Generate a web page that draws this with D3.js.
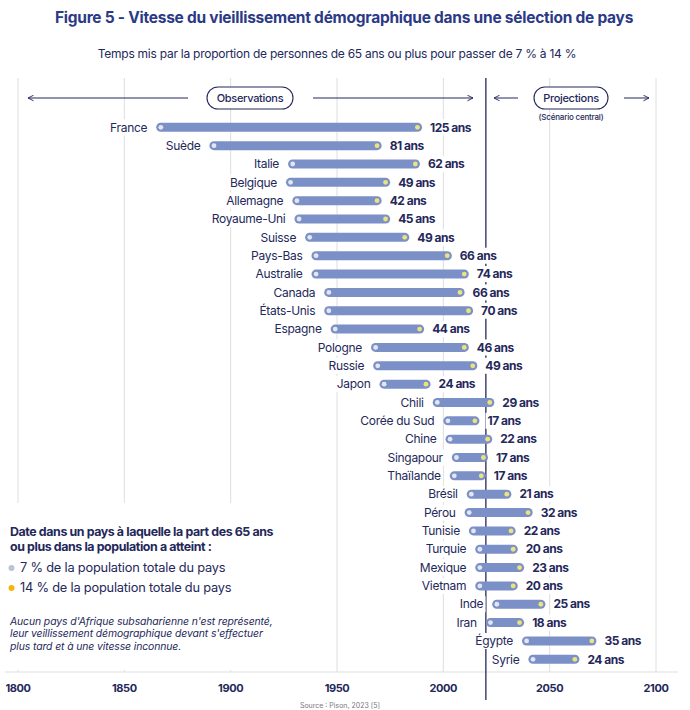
<!DOCTYPE html>
<html lang="fr">

<head>
  <meta charset="UTF-8">
  <title>Vitesse du vieillissement démographique</title>
  <script src="https://d3js.org/d3.v7.min.js"></script>
  <style>
    body {
      margin: 0;
      background: #fff;
    }

    svg {
      font-family: Inter, "Noto Sans", sans-serif;
    }
  </style>
</head>

<body>
  <div id="chart"></div>

  <script>
    // Data
    const countries = ["France", "Suède", "Italie", "Belgique", "Allemagne", "Royaume-Uni", "Suisse",
      "Pays-Bas", "Australie", "Canada", "États-Unis", "Espagne", "Pologne", "Russie", "Japon",
      "Chili", "Corée du Sud", "Chine", "Singapour", "Thaïlande", "Brésil", "Pérou", "Tunisie",
      "Turquie", "Mexique", "Vietnam", "Inde", "Iran", "Égypte", "Syrie"];
    // year when 65+ reached 7 %
    const startYears = [1865, 1890, 1927, 1926, 1929, 1930, 1935,
      1938, 1938, 1944, 1944, 1947, 1966, 1967, 1970,
      1995, 2000, 2001, 2004, 2003, 2011, 2010, 2012,
      2015, 2015, 2015, 2023, 2020, 2037, 2040];
    // years needed to go from 7 % to 14 %
    const durations = [125, 81, 62, 49, 42, 45, 49,
      66, 74, 66, 70, 44, 46, 49, 24,
      29, 17, 22, 17, 17, 21, 32, 22,
      20, 23, 20, 25, 18, 35, 24];
    const tickYears = [1800, 1850, 1900, 1950, 2000, 2050, 2100];
    const projectionStart = 2020;

    const legendTitle = ["Date dans un pays à laquelle la part des 65 ans", "ou plus dans la population a atteint :"];
    const legendItems = ["7 % de la population totale du pays", "14 % de la population totale du pays"];
    const noteLines = ["Aucun pays d'Afrique subsaharienne n'est représenté,",
      "leur veillissement démographique devant s'effectuer",
      "plus tard et à une vitesse inconnue."];

    const rows = countries.map((c, i) => ({
      name: c, start: startYears[i], dur: durations[i], end: startYears[i] + durations[i]
    }));

    // Dimensions
    const width = 690, height = 710;
    const navy = "#24285a", titleBlue = "#2b3a86", barColor = "#7c90c8";
    const gridColor = "#dedede";

    const svg = d3.select("#chart").append("svg")
      .attr("width", width)
      .attr("height", height);

    const x = d3.scaleLinear().domain([1800, 2100]).range([18, 656]);
    const y = d3.scalePoint().domain(countries).range([127.3, 659.3]);
    const axisY = 672;

    // Title
    svg.append("text")
      .attr("x", width / 2 - 1).attr("y", 23)
      .attr("text-anchor", "middle")
      .style("font-size", "15.5px").style("font-weight", 700)
      .style("letter-spacing", "-0.25px")
      .attr("fill", titleBlue)
      .text("Figure 5 - Vitesse du vieillissement démographique dans une sélection de pays");

    svg.append("text")
      .attr("x", 337).attr("y", 58)
      .attr("text-anchor", "middle")
      .style("font-size", "12px")
      .style("letter-spacing", "-0.25px")
      .attr("fill", navy)
      .text("Temps mis par la proportion de personnes de 65 ans ou plus pour passer de 7 % à 14 %");

    // Gridlines
    svg.append("g")
      .selectAll("line")
      .data(tickYears)
      .enter()
      .append("line")
      .attr("x1", d => x(d)).attr("x2", d => x(d))
      .attr("y1", 78).attr("y2", axisY)
      .attr("stroke", gridColor).attr("stroke-width", 1);

    // Legend background hides the left gridlines
    svg.append("rect")
      .attr("x", 0).attr("y", 503).attr("width", 300).attr("height", axisY - 505)
      .attr("fill", "#fff");

    // Bottom axis
    svg.append("line")
      .attr("x1", 5).attr("x2", 678)
      .attr("y1", axisY).attr("y2", axisY)
      .attr("stroke", gridColor).attr("stroke-width", 1.2);

    svg.append("g")
      .selectAll("text")
      .data(tickYears)
      .enter()
      .append("text")
      .attr("x", d => x(d)).attr("y", axisY + 20)
      .attr("text-anchor", "middle")
      .style("font-size", "11px").style("font-weight", 700)
      .style("letter-spacing", "-0.4px")
      .attr("fill", navy)
      .text(d => d);

    // Divider observations / projections
    svg.append("line")
      .attr("x1", x(projectionStart)).attr("x2", x(projectionStart))
      .attr("y1", 78).attr("y2", 700)
      .attr("stroke", navy).attr("stroke-width", 1.3);

    // Header arrows and boxes
    const defs = svg.append("defs");
    defs.append("marker")
      .attr("id", "arrow")
      .attr("viewBox", "0 0 10 10")
      .attr("refX", 9).attr("refY", 5)
      .attr("markerWidth", 7).attr("markerHeight", 7)
      .attr("orient", "auto-start-reverse")
      .append("path")
      .attr("d", "M1,1 L9,5 L1,9")
      .attr("fill", "none").attr("stroke", navy).attr("stroke-width", 1.3);

    const headY = 98;
    function arrow(x1, x2, reverse) {
      svg.append("line")
        .attr("x1", x1).attr("x2", x2)
        .attr("y1", headY).attr("y2", headY)
        .attr("stroke", navy).attr("stroke-width", 1)
        .attr(reverse ? "marker-start" : "marker-end", "url(#arrow)");
    }
    function pill(cx, w, label) {
      svg.append("rect")
        .attr("x", cx - w / 2).attr("y", headY - 11)
        .attr("width", w).attr("height", 22).attr("rx", 11)
        .attr("fill", "#fff").attr("stroke", navy).attr("stroke-width", 1.1);
      svg.append("text")
        .attr("x", cx).attr("y", headY + 4)
        .attr("text-anchor", "middle")
        .style("font-size", "11px").style("font-weight", 500)
        .style("letter-spacing", "-0.3px")
        .attr("fill", navy)
        .text(label);
    }
    arrow(28, 188, true);
    arrow(313, 473, false);
    pill(250, 86, "Observations");
    arrow(494, 518, true);
    arrow(624, 649, false);
    pill(571, 74, "Projections");
    svg.append("text")
      .attr("x", 571).attr("y", 120)
      .attr("text-anchor", "middle")
      .style("font-size", "8px").style("font-weight", 500)
      .style("letter-spacing", "-0.2px")
      .attr("fill", navy)
      .text("(Scénario central)");

    // Bars
    const barH = 9, dotR = 2.4, inset = 4.6;
    const row = svg.append("g")
      .selectAll(".row")
      .data(rows)
      .enter()
      .append("g")
      .attr("class", "row")
      .attr("transform", d => "translate(0," + y(d.name) + ")");

    row.append("rect")
      .attr("x", d => x(d.start))
      .attr("y", -barH / 2)
      .attr("width", d => x(d.end) - x(d.start))
      .attr("height", barH)
      .attr("rx", barH / 2)
      .attr("fill", barColor);

    row.append("circle")
      .attr("cx", d => x(d.start) + inset)
      .attr("r", dotR)
      .attr("fill", "#e3e6f3");

    row.append("circle")
      .attr("cx", d => x(d.end) - inset)
      .attr("r", dotR)
      .attr("fill", "#ede37a");

    // Country labels
    const nameText = row.append("text")
      .attr("x", d => x(d.start) - 9)
      .attr("y", 4.2)
      .attr("text-anchor", "end")
      .style("font-size", "12px")
      .style("letter-spacing", "-0.3px")
      .attr("fill", navy)
      .text(d => d.name);

    // Value labels
    const valText = row.append("text")
      .attr("x", d => x(d.end) + 8)
      .attr("y", 4.2)
      .style("font-size", "12px").style("font-weight", 700)
      .style("letter-spacing", "-0.5px")
      .attr("fill", navy)
      .text(d => d.dur + " ans");

    // white boxes behind labels so the lines stop around them
    [nameText, valText].forEach(sel => {
      sel.each(function () {
        const b = this.getBBox();
        d3.select(this.parentNode).insert("rect", ":first-child")
          .attr("x", b.x - 2).attr("y", -8)
          .attr("width", b.width + 4).attr("height", 16)
          .attr("fill", "#fff");
      });
    });

    // Legend
    const legend = svg.append("g").attr("transform", "translate(10,0)");
    legend.selectAll(".lt")
      .data(legendTitle)
      .enter()
      .append("text")
      .attr("x", 0).attr("y", (d, i) => 536 + i * 15)
      .style("font-size", "12.4px").style("font-weight", 700)
      .style("letter-spacing", "-0.4px")
      .attr("fill", navy)
      .text(d => d);

    const legendColors = ["#bdc3d6", "#f5b50a"];
    const li = legend.selectAll(".li")
      .data(legendItems)
      .enter()
      .append("g")
      .attr("transform", (d, i) => "translate(0," + (568 + i * 20) + ")");
    li.append("circle")
      .attr("cx", 1.5).attr("cy", 0).attr("r", 3)
      .attr("fill", (d, i) => legendColors[i]);
    li.append("text")
      .attr("x", 10).attr("y", 4.2)
      .style("font-size", "12.8px")
      .style("letter-spacing", "-0.2px")
      .attr("fill", navy)
      .text(d => d);

    legend.selectAll(".note")
      .data(noteLines)
      .enter()
      .append("text")
      .attr("x", 0).attr("y", (d, i) => 625 + i * 12.3)
      .style("font-size", "10.4px").style("font-style", "italic")
      .style("letter-spacing", "-0.1px")
      .attr("fill", navy)
      .text(d => d);

    // Source
    svg.append("text")
      .attr("x", 340).attr("y", 708)
      .attr("text-anchor", "middle")
      .style("font-size", "7px")
      .attr("fill", "#777")
      .text("Source : Pison, 2023 [5]");
  </script>
</body>

</html>
